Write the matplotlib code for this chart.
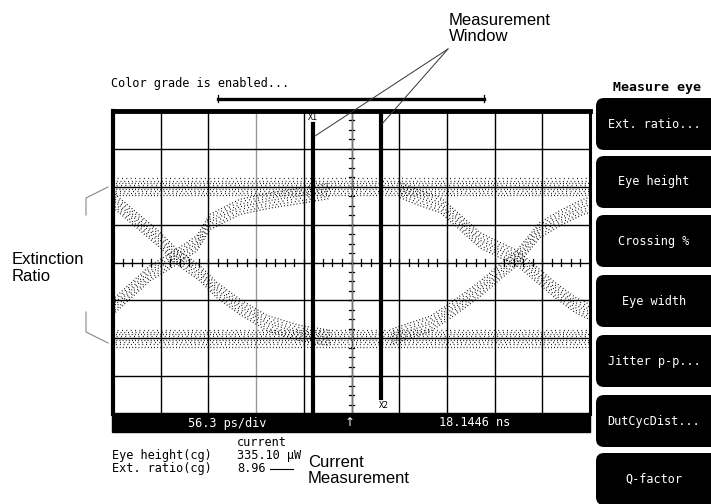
import numpy as np
import matplotlib
matplotlib.use("Agg")
import matplotlib.pyplot as plt
from matplotlib.patches import Rectangle, FancyBboxPatch

# 眼图轨迹（单位：格，横向10格，纵向8格）
fall_left_x = [0.0, 0.57, 0.99, 1.34, 1.82, 2.18, 2.66, 3.23, 3.92, 4.55]
fall_left_y = [5.65, 5.04, 4.59, 4.15, 3.72, 3.27, 2.83, 2.40, 2.14, 2.01]
rise_left_x = [0.0, 0.78, 1.34, 1.76, 2.03, 2.66, 3.35, 3.92, 4.55]
rise_left_y = [2.83, 3.72, 4.15, 4.51, 5.07, 5.47, 5.65, 5.76, 5.89]
fall_right_x = [6.02, 6.37, 6.86, 7.27, 7.69, 8.11, 8.47, 8.85, 9.27, 9.69, 10.0]
fall_right_y = [5.91, 5.73, 5.52, 5.07, 4.59, 4.33, 4.12, 3.72, 3.27, 2.88, 2.69]
rise_right_x = [5.81, 6.65, 7.06, 7.38, 7.69, 8.11, 8.47, 8.95, 9.37, 9.85, 10.0]
rise_right_y = [2.03, 2.38, 2.72, 3.01, 3.30, 3.75, 4.12, 4.86, 5.17, 5.47, 5.52]
high_x = [0.0, 10.0]
high_y = [6.0, 6.0]
low_x = [0.0, 10.0]
low_y = [2.0, 2.0]

# 光标位置
x1_pos = 4.19
x1_top = 7.66
x2_pos = 5.62
x2_bottom = 0.42

# 文字
softkeys = ["Ext. ratio...", "Eye height", "Crossing %", "Eye width",
            "Jitter p-p...", "DutCycDist...", "Q-factor"]
key_tops = [98, 156, 215, 275, 335, 395, 453]
timebase = "56.3 ps/div"
delay = "18.1446 ns"
meas_names = ["Eye height(cg)", "Ext. ratio(cg)"]
meas_values = ["335.10 µW", "8.96"]

mono = "DejaVu Sans Mono"
sans = "Liberation Sans"
fs = 8.6

fig = plt.figure(figsize=(7.11, 5.04), dpi=100)

# 示波器屏幕
ax = fig.add_axes([113 / 711, 1 - 414 / 504, 477 / 711, 303 / 504])
ax.set_xlim(0, 10)
ax.set_ylim(0, 8)
ax.set_xticks([])
ax.set_yticks([])
for s in ax.spines.values():
    s.set_linewidth(2.2)
ax.spines["top"].set_linewidth(3.5)
ax.spines["left"].set_linewidth(3.0)

for i in range(1, 10):
    ax.axvline(i, color="#999999" if i == 3 else "black", lw=1.0, zorder=1)
for j in range(1, 8):
    ax.axhline(j, color="black", lw=1.0, zorder=1)

# 中心轴刻度
for t in np.arange(0.2, 10, 0.2):
    ax.plot([t, t], [3.92, 4.08], color="black", lw=0.9, zorder=1)
for t in np.arange(0.25, 8, 0.25):
    ax.plot([4.94, 5.06], [t, t], color="black", lw=0.9, zorder=1)
ax.axvline(5, color="#777777", lw=0.9, zorder=1)


def band(x, y, hw, n=7):
    offs = np.linspace(-hw, hw, n)
    for k, o in enumerate(offs):
        ax.plot(x, np.array(y) + o, color="black", lw=0.9,
                ls=(k * 0.9, (0.7, 1.8 + 0.5 * (k % 3))), zorder=2)


band(high_x, high_y, 0.22, 9)
band(low_x, low_y, 0.22, 9)
band(fall_left_x, fall_left_y, 0.2)
band(rise_left_x, rise_left_y, 0.2)
band(fall_right_x, fall_right_y, 0.2)
band(rise_right_x, rise_right_y, 0.2)

# X1 / X2 光标
ax.plot([x1_pos, x1_pos], [0, x1_top], color="black", lw=3.0, zorder=4)
ax.plot([x2_pos, x2_pos], [x2_bottom, 8], color="black", lw=3.0, zorder=4)

# 注释层（像素坐标）
ov = fig.add_axes([0, 0, 1, 1], facecolor="none")
ov.set_xlim(0, 711)
ov.set_ylim(504, 0)
ov.axis("off")

ov.text(313, 117, "X1", fontsize=6, family=mono, ha="center", va="center")
ov.text(384, 405, "X2", fontsize=6, family=mono, ha="center", va="center")

# 状态栏
ov.add_patch(Rectangle((112, 413), 478, 19, color="black"))
ov.text(227, 423, timebase, color="white", fontsize=fs, family=mono, ha="center", va="center")
ov.text(350, 422, "↑", color="white", fontsize=fs, family="DejaVu Sans", ha="center", va="center")
ov.text(475, 423, delay, color="white", fontsize=fs, family=mono, ha="center", va="center")

# 测量窗口
ov.text(111, 84, "Color grade is enabled...", fontsize=fs, family=mono, va="center")
ov.plot([218, 484], [98.5, 98.5], color="black", lw=2.4)
ov.plot([218, 218], [95, 102], color="black", lw=0.9)
ov.plot([484, 484], [95, 102], color="black", lw=0.9)

ov.text(449, 13, "Measurement\nWindow", fontsize=12, family=sans, va="top", linespacing=1.05)
ov.plot([448, 315], [49, 136], color="#333333", lw=0.7)
ov.plot([448, 382], [49, 124], color="#333333", lw=0.7)

ov.text(12, 252, "Extinction\nRatio", fontsize=12, family=sans, va="top", linespacing=1.2)
ov.plot([86, 86, 108], [215, 198, 187], color="#888888", lw=0.8)
ov.plot([86, 86, 108], [312, 332, 343], color="#888888", lw=0.8)

# 测量结果
ov.text(237, 443, "current", fontsize=fs, family=mono, va="center")
for k, (name, val) in enumerate(zip(meas_names, meas_values)):
    ov.text(112, 456 + 12.5 * k, name, fontsize=fs, family=mono, va="center")
    ov.text(237, 456 + 12.5 * k, val, fontsize=fs, family=mono, va="center")
ov.plot([270, 293], [468.5, 468.5], color="black", lw=0.8)
ov.text(308, 455, "Current\nMeasurement", fontsize=12, family=sans, va="top", linespacing=1.05)

# 软键
ov.text(657, 87, "Measure eye", fontsize=9.5, family=mono, weight="bold", ha="center", va="center")
for label, top in zip(softkeys, key_tops):
    ov.add_patch(FancyBboxPatch((596, top), 200, 52,
                                boxstyle="round,pad=0,rounding_size=8",
                                fc="black", ec="black", lw=0))
    ov.text(654, top + 26, label, color="white", fontsize=fs, family=mono,
            ha="center", va="center")

fig.savefig("out.png", dpi=100)
